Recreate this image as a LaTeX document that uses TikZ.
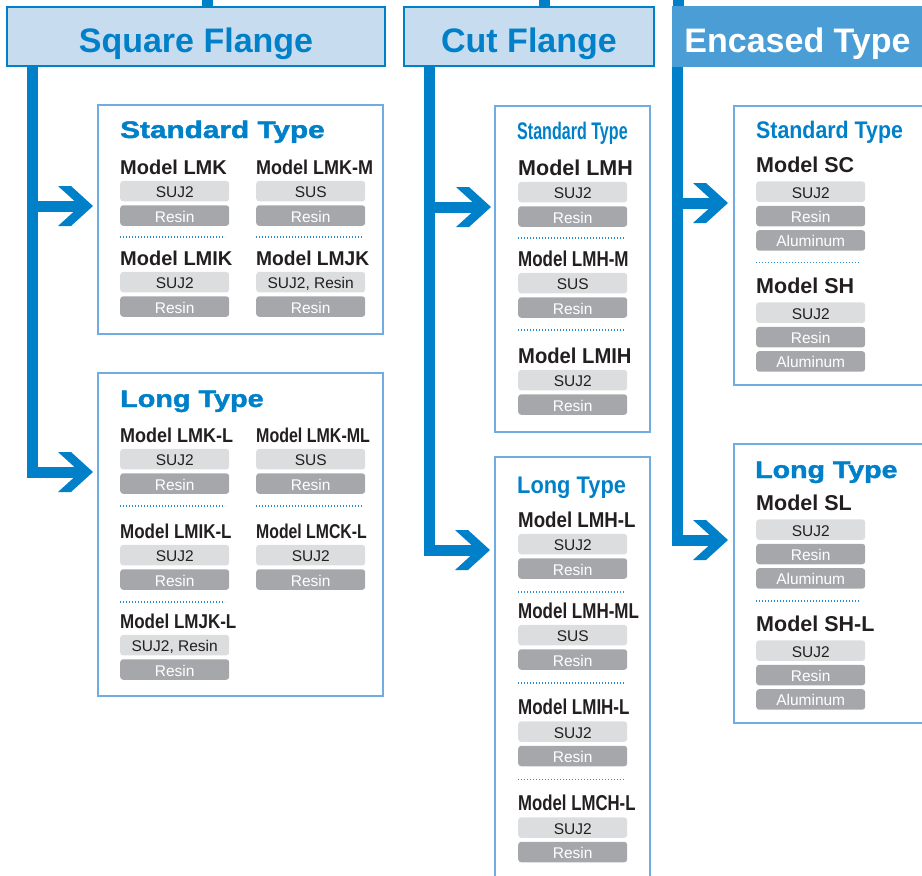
\documentclass[tikz,border=0pt]{standalone}
\usepackage{fontspec}
\setmainfont{Liberation Sans}
\newfontfamily\heavyfont{Liberation Sans Bold}[FakeBold=1.6]
\usepackage{graphicx}
\usetikzlibrary{positioning}
\definecolor{FlowBlue}{RGB}{0,128,200}
\definecolor{HeadFill}{RGB}{200,220,240}
\definecolor{EncFill}{RGB}{74,157,213}
\definecolor{PanelBlue}{RGB}{112,172,226}
\definecolor{DotBlue}{RGB}{40,140,210}
\definecolor{PillLight}{RGB}{220,221,223}
\definecolor{PillDark}{RGB}{166,167,170}
\definecolor{Ink}{RGB}{35,31,32}

\begin{document}
\begin{tikzpicture}[
    x=1pt, y=-1pt,
    trunk/.style={FlowBlue, line width=11pt, line join=miter},
    bar/.style={trunk, shorten >=8pt},
    chev/.pic={\fill[FlowBlue] (0,0) -- (-22,-20) -- (-35,-20) -- (-13,0) -- (-35,20) -- (-22,20) -- cycle;},
    hdr/.style={draw=FlowBlue, line width=2pt, fill=HeadFill, text=FlowBlue, inner sep=0pt,
        font=\bfseries\fontsize{34}{34}\selectfont, minimum height=59pt, text height=32pt, text depth=0pt},
    panel/.style={draw=PanelBlue, line width=2.4pt, inner sep=0pt},
    ttl/.style={anchor=base west, inner sep=0pt, text=FlowBlue, font=\bfseries\fontsize{24}{24}\selectfont},
    ttlh/.style={ttl, font=\heavyfont\fontsize{24}{24}\selectfont},
    mdl/.style={anchor=base west, inner sep=0pt, text=Ink, text depth=0pt, font=\bfseries\fontsize{20}{20}\selectfont},
    mdlc/.style={mdl, font=\bfseries\fontsize{21.5}{21.5}\selectfont},
    pillL/.style={fill=PillLight, rounded corners=3pt, minimum width=109pt, minimum height=20.5pt, inner sep=0pt,
        text height=13pt, text depth=0pt, text=Ink, font=\fontsize{15.5}{15.5}\selectfont},
    pillD/.style={pillL, fill=PillDark, text=white},
    dotsep/.style={DotBlue, line width=1.6pt, dash pattern=on 1pt off 2pt},
]
\useasboundingbox (0,0) rectangle (922,876);
\clip (0,0) rectangle (922,876);

% ---- arrow targets ----
\coordinate (sqA) at (93,206);
\coordinate (sqB) at (93,472);
\coordinate (cutA) at (491,207);
\coordinate (cutB) at (490,550);
\coordinate (encA) at (728,203);
\coordinate (encB) at (728,540);
\coordinate (sqtop) at (207.5,0);
\coordinate (cuttop) at (544.5,0);
\coordinate (enctop) at (678,0);

% ---- headers ----
\node[hdr, minimum width=378pt] (sq) at (196,36.5) {Square Flange};
\node[hdr, minimum width=250pt] (cut) at (529,36.5) {Cut Flange};
\node[hdr, draw=EncFill, fill=EncFill, text=white, minimum width=249pt] (enc) at (797.5,36.5) {Encased Type};

\draw[trunk] (sqtop) -- (sqtop |- sq.north);
\draw[trunk] (cuttop) -- (cuttop |- cut.north);
\draw[trunk] (enctop) -- (enctop |- enc.north);

\coordinate (sqbar) at ([xshift=26.5pt]sq.south west);
\coordinate (cutbar) at ([xshift=26.5pt]cut.south west);
\coordinate (encbar) at ([xshift=5pt]enc.south west);

\draw[bar] (sqbar) |- (sqB);
\draw[bar] (sqbar |- sqA) -- (sqA);
\draw[bar] (cutbar) |- (cutB);
\draw[bar] (cutbar |- cutA) -- (cutA);
\draw[bar] (encbar) |- (encB);
\draw[bar] (encbar |- encA) -- (encA);
\foreach \t in {sqA, sqB, cutA, cutB, encA, encB}
    \pic at (\t) {chev};

% ---- Square Flange: standard ----
\node[panel, minimum width=284.6pt, minimum height=228.6pt] (sqstd) at (240.5,219.5) {};
\node[ttlh] (sqstdt) at (120,138) {\scalebox{1.24}[1]{Standard Type}};
\node[mdl] (lmk) at (120,174) {Model LMK};
\node[pillL, below=6.5pt of lmk.south west, anchor=north west] (lmkA) {SUJ2};
\node[pillD, below=3.5pt of lmkA] (lmkB) {Resin};
\node[mdl] (lmkm) at (256,174) {\scalebox{0.9}[1]{Model LMK-M}};
\node[pillL, below=6.5pt of lmkm.south west, anchor=north west] (lmkmA) {SUS};
\node[pillD, below=3.5pt of lmkmA] (lmkmB) {Resin};
\draw[dotsep] ([yshift=-11pt]lmkB.south west) -- ++(105,0);
\draw[dotsep] ([yshift=-11pt]lmkmB.south west) -- ++(106,0);
\node[mdl] (lmik) at (120,265) {Model LMIK};
\node[pillL, below=6.5pt of lmik.south west, anchor=north west] (lmikA) {SUJ2};
\node[pillD, below=3.5pt of lmikA] (lmikB) {Resin};
\node[mdl] (lmjk) at (256,265) {\scalebox{0.96}[1]{Model LMJK}};
\node[pillL, below=6.5pt of lmjk.south west, anchor=north west] (lmjkA) {SUJ2, Resin};
\node[pillD, below=3.5pt of lmjkA] (lmjkB) {Resin};

% ---- Square Flange: long ----
\node[panel, minimum width=284.6pt, minimum height=322.6pt] (sqlong) at (240.5,534.5) {};
\node[ttlh] (sqlongt) at (120,407) {\scalebox{1.2}[1]{Long Type}};
\node[mdl] (lmkl) at (120,442) {\scalebox{0.9}[1]{Model LMK-L}};
\node[pillL, below=6.5pt of lmkl.south west, anchor=north west] (lmklA) {SUJ2};
\node[pillD, below=3.5pt of lmklA] (lmklB) {Resin};
\node[mdl] (lmkml) at (256,442) {\scalebox{0.8}[1]{Model LMK-ML}};
\node[pillL, below=6.5pt of lmkml.south west, anchor=north west] (lmkmlA) {SUS};
\node[pillD, below=3.5pt of lmkmlA] (lmkmlB) {Resin};
\draw[dotsep] ([yshift=-12pt]lmklB.south west) -- ++(105,0);
\draw[dotsep] ([yshift=-12pt]lmkmlB.south west) -- ++(106,0);
\node[mdl] (lmikl) at (120,538) {\scalebox{0.85}[1]{Model LMIK-L}};
\node[pillL, below=6.5pt of lmikl.south west, anchor=north west] (lmiklA) {SUJ2};
\node[pillD, below=3.5pt of lmiklA] (lmiklB) {Resin};
\node[mdl] (lmckl) at (256,538) {\scalebox{0.79}[1]{Model LMCK-L}};
\node[pillL, below=6.5pt of lmckl.south west, anchor=north west] (lmcklA) {SUJ2};
\node[pillD, below=3.5pt of lmcklA] (lmcklB) {Resin};
\draw[dotsep] ([yshift=-12pt]lmiklB.south west) -- ++(105,0);
\node[mdl] (lmjkl) at (120,628) {\scalebox{0.85}[1]{Model LMJK-L}};
\node[pillL, below=6.5pt of lmjkl.south west, anchor=north west] (lmjklA) {SUJ2, Resin};
\node[pillD, below=3.5pt of lmjklA] (lmjklB) {Resin};

% ---- Cut Flange: standard ----
\node[panel, minimum width=154.6pt, minimum height=325.6pt] (cutstd) at (572.5,269) {};
\node[ttl] (cutstdt) at (517,139) {\scalebox{0.67}[1]{Standard Type}};
\node[mdlc] (lmh) at (518,175) {Model LMH};
\node[pillL, below=6.5pt of lmh.south west, anchor=north west] (lmhA) {SUJ2};
\node[pillD, below=3.5pt of lmhA] (lmhB) {Resin};
\draw[dotsep] ([yshift=-11pt]lmhB.south west) -- ++(106,0);
\node[mdlc] (lmhm) at (518,266) {\scalebox{0.79}[1]{Model LMH-M}};
\node[pillL, below=6.5pt of lmhm.south west, anchor=north west] (lmhmA) {SUS};
\node[pillD, below=3.5pt of lmhmA] (lmhmB) {Resin};
\draw[dotsep] ([yshift=-12pt]lmhmB.south west) -- ++(106,0);
\node[mdlc] (lmih) at (518,363) {\scalebox{0.94}[1]{Model LMIH}};
\node[pillL, below=6.5pt of lmih.south west, anchor=north west] (lmihA) {SUJ2};
\node[pillD, below=3.5pt of lmihA] (lmihB) {Resin};

% ---- Cut Flange: long ----
\node[panel, minimum width=154.6pt, minimum height=432.8pt] (cutlong) at (572.5,673.6) {};
\node[ttl] (cutlongt) at (517,493) {\scalebox{0.91}[1]{Long Type}};
\node[mdlc] (lmhl) at (518,527) {\scalebox{0.87}[1]{Model LMH-L}};
\node[pillL, below=6.5pt of lmhl.south west, anchor=north west] (lmhlA) {SUJ2};
\node[pillD, below=3.5pt of lmhlA] (lmhlB) {Resin};
\draw[dotsep] ([yshift=-13pt]lmhlB.south west) -- ++(106,0);
\node[mdlc] (lmhml) at (518,618) {\scalebox{0.79}[1]{Model LMH-ML}};
\node[pillL, below=6.5pt of lmhml.south west, anchor=north west] (lmhmlA) {SUS};
\node[pillD, below=3.5pt of lmhmlA] (lmhmlB) {Resin};
\draw[dotsep] ([yshift=-13pt]lmhmlB.south west) -- ++(106,0);
\node[mdlc] (lmihl) at (518,714.5) {\scalebox{0.79}[1]{Model LMIH-L}};
\node[pillL, below=6.5pt of lmihl.south west, anchor=north west] (lmihlA) {SUJ2};
\node[pillD, below=3.5pt of lmihlA] (lmihlB) {Resin};
\draw[dotsep] ([yshift=-13pt]lmihlB.south west) -- ++(106,0);
\node[mdlc] (lmchl) at (518,810.5) {\scalebox{0.78}[1]{Model LMCH-L}};
\node[pillL, below=6.5pt of lmchl.south west, anchor=north west] (lmchlA) {SUJ2};
\node[pillD, below=3.5pt of lmchlA] (lmchlB) {Resin};

% ---- Encased Type: standard ----
\node[panel, minimum width=200.8pt, minimum height=278.6pt] (encstd) at (834.6,245.5) {};
\node[ttl] (encstdt) at (756,138) {\scalebox{0.89}[1]{Standard Type}};
\node[mdlc] (sc) at (756,172) {Model SC};
\node[pillL, below=9pt of sc.south west, anchor=north west] (scA) {SUJ2};
\node[pillD, below=3.5pt of scA] (scB) {Resin};
\node[pillD, below=3.5pt of scB] (scC) {Aluminum};
\draw[dotsep] ([yshift=-11.5pt]scC.south west) -- ++(104,0);
\node[mdlc] (sh) at (756,293) {Model SH};
\node[pillL, below=9pt of sh.south west, anchor=north west] (shA) {SUJ2};
\node[pillD, below=3.5pt of shA] (shB) {Resin};
\node[pillD, below=3.5pt of shB] (shC) {Aluminum};

% ---- Encased Type: long ----
\node[panel, minimum width=200.8pt, minimum height=278.6pt] (enclong) at (834.6,583.5) {};
\node[ttlh] (enclongt) at (755,478) {\scalebox{1.19}[1]{Long Type}};
\node[mdlc] (sl) at (756,510) {Model SL};
\node[pillL, below=9pt of sl.south west, anchor=north west] (slA) {SUJ2};
\node[pillD, below=3.5pt of slA] (slB) {Resin};
\node[pillD, below=3.5pt of slB] (slC) {Aluminum};
\draw[dotsep] ([yshift=-12pt]slC.south west) -- ++(104,0);
\node[mdlc] (shl) at (756,631) {Model SH-L};
\node[pillL, below=9pt of shl.south west, anchor=north west] (shlA) {SUJ2};
\node[pillD, below=3.5pt of shlA] (shlB) {Resin};
\node[pillD, below=3.5pt of shlB] (shlC) {Aluminum};

\end{tikzpicture}
\end{document}
